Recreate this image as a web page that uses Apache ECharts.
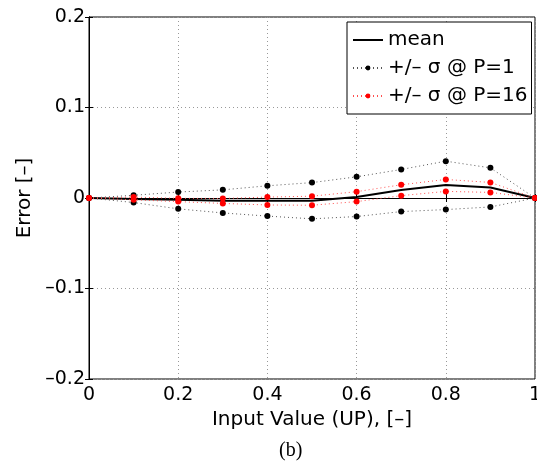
<!DOCTYPE html>
<html lang="en">

<head>
    <meta charset="UTF-8">
    <title>Error vs input value</title>
    <script src="https://cdn.jsdelivr.net/npm/echarts@6/dist/echarts.min.js"></script>
    <style>
        body,
        html {
            padding: 0;
            margin: 0;
            background: #fff;
        }

        #chart-panel {
            width: 537px;
            height: 462px;
        }
    </style>
</head>

<body>
    <div id="chart-panel"></div>
    <script>
        // values
        var xVals = [0, 0.1, 0.2, 0.3, 0.4, 0.5, 0.6, 0.7, 0.8, 0.9, 1];
        var meanVals = [0, -0.001, -0.002, -0.003, -0.003, -0.003, 0.001, 0.0088, 0.0143, 0.0117, 0];
        var p1Upper = [0, 0.003, 0.0066, 0.009, 0.0135, 0.017, 0.0234, 0.0315, 0.0407, 0.0333, 0];
        var p1Lower = [0, -0.005, -0.012, -0.0165, -0.020, -0.023, -0.0205, -0.015, -0.0128, -0.0099, 0];
        var p16Upper = [0, 0.001, -0.0004, -0.0005, 0.001, 0.002, 0.007, 0.0146, 0.0205, 0.0172, 0];
        var p16Lower = [0, -0.002, -0.004, -0.006, -0.0077, -0.008, -0.004, 0.0026, 0.0073, 0.0062, 0];
        var seriesNames = ['mean', '+/\u2013 \u03c3 @ P=1', '+/\u2013 \u03c3 @ P=16'];

        function pairs(ys) {
            return xVals.map(function (x, i) { return [x, ys[i]]; });
        }

        function fmt(v) {
            var s = String(Math.round(v * 10) / 10);
            return s.replace('-', '\u2013');
        }

        var font = 'DejaVu Sans';

        // dotted line with filled dots; line drawn a bit lighter than the dots
        function dotted(name, color, lineColor, ys) {
            return {
                name: name,
                type: 'line',
                data: pairs(ys),
                symbol: 'circle',
                symbolSize: 6,
                clip: false,
                itemStyle: { color: color },
                lineStyle: { color: lineColor, width: 1, type: [1, 3] },
                emphasis: { disabled: true }
            };
        }

        var option = {
            backgroundColor: '#fff',
            animation: false,
            grid: {
                left: 89,
                right: 2,
                top: 17,
                bottom: 83,
                outerBoundsMode: 'none',
                containLabel: false,
                show: true,
                borderColor: '#000',
                borderWidth: 1
            },
            legend: {
                left: 347,
                top: 22,
                orient: 'vertical',
                data: [
                    { name: seriesNames[0], itemStyle: { opacity: 0 } },
                    seriesNames[1],
                    seriesNames[2]
                ],
                backgroundColor: '#fff',
                borderColor: '#000',
                borderWidth: 1,
                padding: [8, 4, 8, 5],
                itemGap: 8,
                itemWidth: 30,
                itemHeight: 6,
                textStyle: { fontFamily: font, fontSize: 20, color: '#000', lineHeight: 20 }
            },
            graphic: [{
                type: 'text',
                left: 279,
                top: 441,
                style: { text: '(b)', font: '20px "Liberation Serif"', fill: '#000' }
            }],
            xAxis: [{
                type: 'value',
                min: 0,
                max: 1,
                interval: 0.2,
                name: 'Input Value (UP), [\u2013]',
                nameLocation: 'middle',
                nameGap: 24,
                nameTextStyle: { fontFamily: font, fontSize: 20, color: '#000' },
                axisLine: { lineStyle: { color: '#000', width: 1 } },
                axisTick: { inside: true, length: 4, lineStyle: { color: '#000' } },
                axisLabel: { margin: 7, fontFamily: font, fontSize: 19, color: '#000', formatter: fmt },
                splitLine: { lineStyle: { color: '#999', type: [1, 3] } }
            }, {
                type: 'value',
                position: 'top',
                min: 0,
                max: 1,
                interval: 0.2,
                axisLine: { lineStyle: { color: '#000' } },
                axisTick: { inside: true, length: 4, lineStyle: { color: '#000' } },
                axisLabel: { show: false },
                splitLine: { show: false }
            }],
            yAxis: [{
                type: 'value',
                min: -0.2,
                max: 0.2,
                interval: 0.1,
                name: 'Error [\u2013]',
                nameLocation: 'middle',
                nameGap: 51,
                nameTextStyle: { fontFamily: font, fontSize: 20, color: '#000' },
                axisLine: { lineStyle: { color: '#000', width: 1 } },
                axisTick: { inside: true, length: 4, lineStyle: { color: '#000' } },
                axisLabel: { margin: 4, fontFamily: font, fontSize: 19, color: '#000', formatter: fmt },
                splitLine: { lineStyle: { color: '#999', type: [1, 3] } }
            }, {
                type: 'value',
                position: 'right',
                min: -0.2,
                max: 0.2,
                interval: 0.1,
                axisLine: { lineStyle: { color: '#000' } },
                axisTick: { inside: true, length: 4, lineStyle: { color: '#000' } },
                axisLabel: { show: false },
                splitLine: { show: false }
            }],
            series: [
                {
                    name: seriesNames[0],
                    type: 'line',
                    data: pairs(meanVals),
                    showSymbol: false,
                    symbol: 'none',
                    itemStyle: { color: '#000' },
                    lineStyle: { color: '#000', width: 2 },
                    emphasis: { disabled: true }
                },
                dotted(seriesNames[1], '#000', '#555', p1Upper),
                dotted(seriesNames[1], '#000', '#555', p1Lower),
                dotted(seriesNames[2], '#ff0000', '#ff5050', p16Upper),
                dotted(seriesNames[2], '#ff0000', '#ff5050', p16Lower)
            ]
        };

        var chartVM = echarts.init(document.getElementById('chart-panel'));
        chartVM.setOption(option);
    </script>
</body>

</html>
